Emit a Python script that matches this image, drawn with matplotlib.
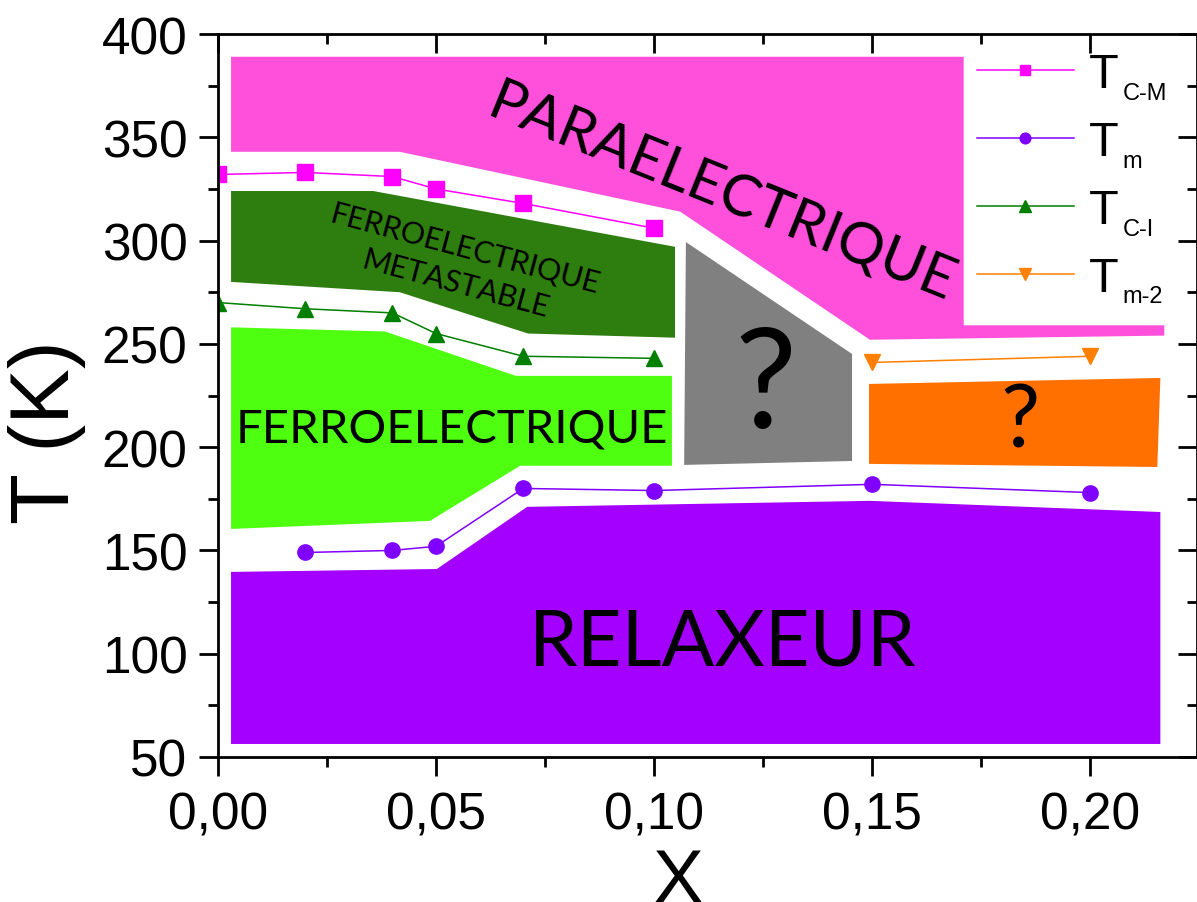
import numpy as np
import matplotlib.pyplot as plt
from matplotlib.ticker import MultipleLocator, FuncFormatter

# transition temperatures
x_cm = [0.0, 0.02, 0.04, 0.05, 0.07, 0.10]
t_cm = [332, 333, 331, 325, 318, 306]
x_m = [0.02, 0.04, 0.05, 0.07, 0.10, 0.15, 0.20]
t_m = [149, 150, 152, 180, 179, 182, 178]
x_ci = [0.0, 0.02, 0.04, 0.05, 0.07, 0.10]
t_ci = [270, 267, 265, 255, 244, 243]
x_m2 = [0.15, 0.20]
t_m2 = [241, 244]

# phase regions (corners in x / T)
para_x = [0.003, 0.171, 0.171, 0.217, 0.217, 0.1495, 0.106, 0.0417, 0.003]
para_t = [389, 389, 259, 259, 254, 252, 314, 343, 343]
meta_x = [0.003, 0.0356, 0.1048, 0.1048, 0.0711, 0.0417, 0.003]
meta_t = [324, 324, 297, 253, 255, 275, 280]
ferro_x = [0.003, 0.0383, 0.0683, 0.1041, 0.1041, 0.0693, 0.0486, 0.003]
ferro_t = [258, 256, 234.5, 234.5, 191, 191, 164.3, 160.4]
grey_x = [0.1073, 0.1454, 0.1454, 0.1069]
grey_t = [299.3, 245.1, 193.3, 191.4]
orange_x = [0.1493, 0.2161, 0.2154, 0.1493]
orange_t = [230.6, 233.5, 190.4, 191.9]
relax_x = [0.003, 0.0502, 0.0709, 0.1495, 0.2161, 0.2161, 0.003]
relax_t = [139.6, 141.0, 171.1, 174.0, 168.6, 56.3, 56.3]

sub_labels = ['C-M', 'm', 'C-I', 'm-2']

plt.rcParams['font.family'] = ['Liberation Sans', 'DejaVu Sans']
lab_font = 'Lato'

fig = plt.figure(figsize=(11.97, 9.03), dpi=100)
ax = fig.add_axes([0.1821, 0.1606, 0.8179, 0.8006])

ax.fill(para_x, para_t, color='#FF50DC', lw=0)
ax.fill(meta_x, meta_t, color='#2E7D0F', lw=0)
ax.fill(ferro_x, ferro_t, color='#4EFF0F', lw=0)
ax.fill(grey_x, grey_t, color='#808080', lw=0)
ax.fill(orange_x, orange_t, color='#FF7000', lw=0)
ax.fill(relax_x, relax_t, color='#A300FF', lw=0)

l1, = ax.plot(x_cm, t_cm, '-s', color='#FF00FF', ms=11, lw=1.1)
l2, = ax.plot(x_m, t_m, '-o', color='#8000FF', ms=11, lw=1.1)
l3, = ax.plot(x_ci, t_ci, '-^', color='#007F00', ms=12, lw=1.1)
l4, = ax.plot(x_m2, t_m2, '-v', color='#FF8000', ms=12, lw=1.1)

ax.text(0.1155, 323, 'PARAELECTRIQUE', rotation=-22, fontsize=42, family=lab_font,
        ha='center', va='center', rotation_mode='anchor')
ax.text(0.0555, 288, 'FERROELECTRIQUE\nMETASTABLE', rotation=-15, fontsize=22, family=lab_font,
        ha='center', va='center', rotation_mode='anchor', linespacing=1.35)
ax.text(0.0537, 209, 'FERROELECTRIQUE', fontsize=34, family=lab_font, ha='center', va='center')
ax.text(0.1158, 105, 'RELAXEUR', fontsize=56, family=lab_font, ha='center', va='center')
ax.text(0.1255, 229, '?', fontsize=100, family=lab_font, ha='center', va='center')
ax.text(0.184, 212, '?', fontsize=63, family=lab_font, ha='center', va='center')

ax.set_xlim(0, 0.2245)
ax.set_ylim(50, 400)
ax.xaxis.set_major_locator(MultipleLocator(0.05))
ax.xaxis.set_minor_locator(MultipleLocator(0.025))
ax.yaxis.set_major_locator(MultipleLocator(50))
ax.yaxis.set_minor_locator(MultipleLocator(25))
ax.xaxis.set_major_formatter(FuncFormatter(lambda v, p: f'{v:.2f}'.replace('.', ',')))
ax.tick_params(which='major', direction='out', length=14, width=2, labelsize=37)
ax.tick_params(which='minor', direction='out', length=7, width=2)
ax.tick_params(axis='x', pad=10)
ax.tick_params(axis='y', pad=8)
for s in ax.spines.values():
    s.set_linewidth(2)

# mirrored ticks pointing in
top = ax.secondary_xaxis('top')
top.xaxis.set_major_locator(MultipleLocator(0.05))
top.xaxis.set_minor_locator(MultipleLocator(0.025))
top.tick_params(which='major', direction='in', length=14, width=2, labeltop=False)
top.tick_params(which='minor', direction='in', length=7, width=2)
right = ax.secondary_yaxis('right')
right.yaxis.set_major_locator(MultipleLocator(50))
right.yaxis.set_minor_locator(MultipleLocator(25))
right.tick_params(which='major', direction='in', length=14, width=2, labelright=False)
right.tick_params(which='minor', direction='in', length=7, width=2)

ax.set_xlabel('X', fontsize=55)
ax.xaxis.set_label_coords(0.47, -0.125)
ax.set_ylabel('T (K)', fontsize=60)
ax.yaxis.set_label_coords(-0.135, 0.45)

leg = ax.legend([l1, l2, l3, l4], ['T'] * 4, loc='upper left', bbox_to_anchor=(0.775, 0.975),
                frameon=False, fontsize=35, handlelength=2.0, handletextpad=0.3,
                labelspacing=0.47, borderpad=0, borderaxespad=0, markerscale=0.7)
fig.canvas.draw()
for txt, sub in zip(leg.get_texts(), sub_labels):
    ax.annotate(sub, xy=(1, 0), xycoords=txt, xytext=(3, 11), textcoords='offset points',
                fontsize=17, ha='left', va='top', zorder=6)

fig.savefig('out.png', dpi=100)
